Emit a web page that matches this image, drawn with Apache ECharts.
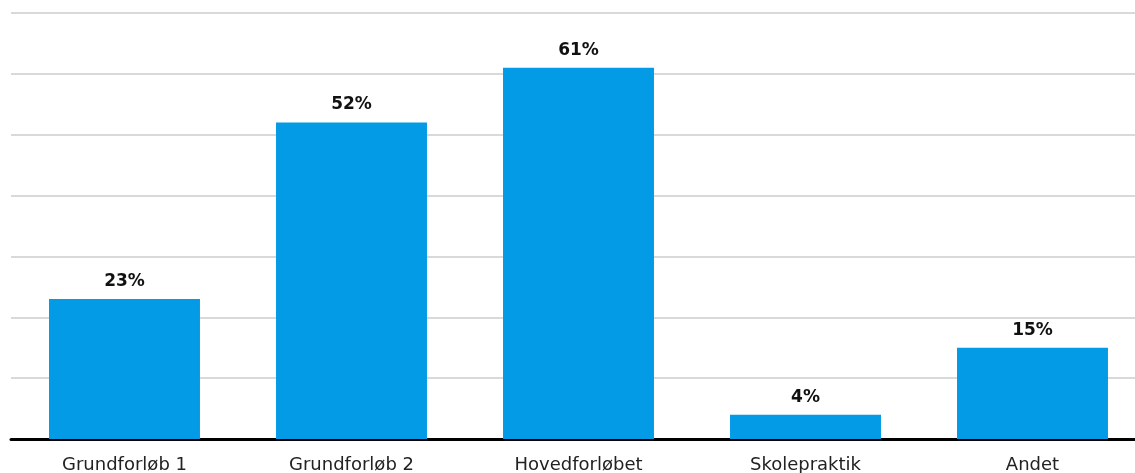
<!DOCTYPE html>
<html>
<head>
<meta charset="utf-8">
<script src="https://cdn.jsdelivr.net/npm/echarts@6/dist/echarts.min.js"></script>
<style>
  html, body { margin: 0; padding: 0; background: #ffffff; }
  #chart { width: 1135px; height: 473px; }
</style>
</head>
<body>
<div id="chart"></div>
<script>
// Share of respondents by education phase (percent)
const categories = ['Grundforløb 1', 'Grundforløb 2', 'Hovedforløbet', 'Skolepraktik', 'Andet'];
const values = [23, 52, 61, 4, 15];

const FONT = "'DejaVu Sans', Verdana, sans-serif";

const chart = echarts.init(document.getElementById('chart'), null, { renderer: 'canvas' });

chart.setOption({
  animation: false,
  backgroundColor: '#ffffff',
  grid: { left: 11, width: 1135, top: 13, bottom: 34, containLabel: false, outerBoundsMode: 'none' },
  xAxis: {
    type: 'category',
    data: categories,
    axisLine: { show: true, lineStyle: { color: '#000000', width: 3 } },
    axisTick: { show: false },
    axisLabel: {
      color: '#222222',
      fontFamily: FONT,
      fontSize: 18,
      margin: 17
    }
  },
  yAxis: {
    type: 'value',
    min: 0,
    max: 70,
    interval: 10,
    axisLine: { show: false },
    axisTick: { show: false },
    axisLabel: { show: false },
    splitLine: { show: true, lineStyle: { color: '#d9d9d9', width: 2 } }
  },
  series: [{
    type: 'bar',
    data: values,
    barCategoryGap: '33.5%',
    itemStyle: { color: '#039be5' },
    label: {
      show: true,
      position: 'top',
      distance: 9,
      formatter: '{c}%',
      color: '#111111',
      fontWeight: 'bold',
      fontFamily: FONT,
      fontSize: 17
    }
  }]
});
</script>
</body>
</html>
